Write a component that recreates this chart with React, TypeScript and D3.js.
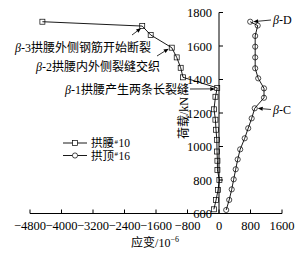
import React from "react";
import * as d3 from "d3";

const xTicks = [-4800, -4000, -3200, -2400, -1600, -800, 0, 800, 1600];
const yTicks = [600, 800, 1000, 1200, 1400, 1600, 1800];

const waistLoad = [625, 680, 740, 800, 860, 915, 970, 1040, 1100, 1160, 1222, 1297, 1350, 1413, 1470, 1532, 1590, 1666, 1719, 1745];
const waistStrain = [-130, -75, -25, 10, -40, -40, -50, -55, -76, -91, -127, -90, -45, -914, -973, -1074, -1200, -1735, -1950, -4485];

const crownLoad = [621, 681, 744, 804, 864, 923, 983, 1049, 1109, 1168, 1228, 1291, 1347, 1407, 1467, 1532, 1596, 1660, 1722, 1745];
const crownStrain = [183, 259, 323, 373, 424, 475, 538, 653, 742, 830, 907, 1143, 1143, 996, 919, 919, 919, 919, 983, 792];

const legendNames = ["拱腰", "拱顶"];
const legendNums = ["10", "16"];

const FONT = "'Liberation Serif', 'Times New Roman', 'Noto Sans CJK SC', serif";

export default function App() {
  const W = 307, H = 256;
  const x = d3.scaleLinear().domain([-4800, 1600]).range([30, 282]);
  const y = d3.scaleLinear().domain([600, 1800]).range([213.5, 12.5]);
  const line = d3.line<[number, number]>().x(d => x(d[0])).y(d => y(d[1]));
  const waist: [number, number][] = waistStrain.map((v, i) => [v, waistLoad[i]]);
  const crown: [number, number][] = crownStrain.map((v, i) => [v, crownLoad[i]]);
  const x0 = x(0);
  const fmt = (v: number) => (v < 0 ? "\u2212" + Math.abs(v) : String(v));

  const arrow = (x1: number, y1: number, x2: number, y2: number, key: string) => {
    const ang = Math.atan2(y2 - y1, x2 - x1);
    const L = 5, Wd = 2;
    const bx = x2 - L * Math.cos(ang), by = y2 - L * Math.sin(ang);
    const px = -Math.sin(ang) * Wd, py = Math.cos(ang) * Wd;
    return (
      <g key={key}>
        <line x1={x1} y1={y1} x2={bx} y2={by} stroke="#000" strokeWidth={0.8} />
        <path d={`M${x2},${y2}L${bx + px},${by + py}L${bx - px},${by - py}Z`} fill="#000" />
      </g>
    );
  };

  const sq = 5, cr = 2.6;

  return (
    <svg width={W} height={H} style={{ position: "fixed", left: 0, top: 0, background: "#fff" }} fontFamily={FONT}>
      <rect width={W} height={H} fill="#fff" />
      {/* x axis */}
      <line x1={x(-4800)} x2={x(1600)} y1={y(600)} y2={y(600)} stroke="#000" strokeWidth={1} />
      {xTicks.map(t => (
        <g key={"xt" + t}>
          <line x1={x(t)} x2={x(t)} y1={y(600)} y2={y(600) - 4} stroke="#000" strokeWidth={1} />
          <text x={x(t)} y={y(600) + 16} fontSize={12.5} textAnchor="middle">{fmt(t)}</text>
        </g>
      ))}
      {/* y axis */}
      <line x1={x0} x2={x0} y1={y(600)} y2={y(1800)} stroke="#000" strokeWidth={1} />
      {yTicks.map(t => (
        <g key={"yt" + t}>
          <line x1={x0} x2={x0 + 4} y1={y(t)} y2={y(t)} stroke="#000" strokeWidth={1} />
          <text x={x0 - 7} y={y(t) + 4.5} fontSize={12.5} textAnchor="end">{t}</text>
        </g>
      ))}
      <text transform={`translate(188,118) rotate(-90)`} fontSize={12} textAnchor="middle">荷载/kN</text>
      <text x={155} y={247} fontSize={12} textAnchor="middle">
        应变/10<tspan fontSize={8} dy={-5}>−6</tspan>
      </text>

      {/* series */}
      <path d={line(waist) || ""} fill="none" stroke="#000" strokeWidth={0.9} />
      <path d={line(crown) || ""} fill="none" stroke="#000" strokeWidth={0.9} />
      {waist.map((d, i) => (
        <rect key={"s" + i} x={x(d[0]) - sq / 2} y={y(d[1]) - sq / 2} width={sq} height={sq} fill="none" stroke="#000" strokeWidth={0.7} />
      ))}
      {crown.map((d, i) => (
        <circle key={"c" + i} cx={x(d[0])} cy={y(d[1])} r={cr} fill="none" stroke="#000" strokeWidth={0.7} />
      ))}

      {/* annotations */}
      <text x={15} y={52} fontSize={12}><tspan fontStyle="italic">β</tspan>-3拱腰外侧钢筋开始断裂</text>
      <text x={36} y={71} fontSize={12}><tspan fontStyle="italic">β</tspan>-2拱腰内外侧裂缝交织</text>
      <text x={65} y={94} fontSize={12}><tspan fontStyle="italic">β</tspan>-1拱腰产生两条长裂缝</text>
      {arrow(132, 35, x(-1950) - 1, y(1719) + 2, "a3")}
      {arrow(157, 56, x(-1200) - 3, y(1590) + 1, "a2")}
      {arrow(190, 89, x(-45) - 2, y(1350) + 1, "a1")}
      <text x={273} y={24} fontSize={12}><tspan fontStyle="italic">β</tspan>-D</text>
      <text x={273} y={114} fontSize={12}><tspan fontStyle="italic">β</tspan>-C</text>
      {arrow(271, 20, x(792) + 3, y(1745), "aD")}
      {arrow(271, 109.5, x(907) + 3, y(1228), "aC")}

      {/* legend */}
      {legendNames.map((name, i) => {
        const ly = 143 + i * 12.5;
        return (
          <g key={"lg" + i}>
            <line x1={63} x2={87} y1={ly} y2={ly} stroke="#000" strokeWidth={0.9} />
            {i === 0 ? (
              <rect x={75 - sq / 2} y={ly - sq / 2} width={sq} height={sq} fill="#fff" stroke="#000" strokeWidth={0.7} />
            ) : (
              <circle cx={75} cy={ly} r={cr} fill="#fff" stroke="#000" strokeWidth={0.7} />
            )}
            <text x={91} y={ly + 4.2} fontSize={11.5}>{name}</text>
            <text x={114.5} y={ly + 0.5} fontSize={7}>#</text>
            <text x={118.5} y={ly + 4.2} fontSize={11.5}>{legendNums[i]}</text>
          </g>
        );
      })}
    </svg>
  );
}
